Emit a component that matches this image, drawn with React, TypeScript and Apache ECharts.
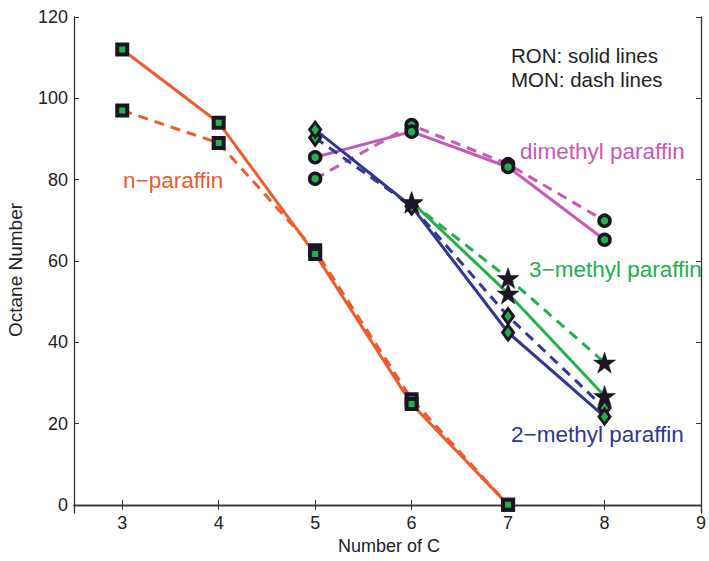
import React, { useEffect, useRef } from "react";
import * as echarts from "echarts";

// Octane numbers of paraffins by carbon count (RON solid, MON dashed)
const nParaffinC = [3, 4, 5, 6, 7];
const nParaffinRON = [112, 94, 61.7, 24.8, 0];
const nParaffinMON = [97, 89, 62.6, 26, 0];

const methyl2C = [5, 6, 7, 8];
const methyl2RON = [92.3, 73.4, 42.4, 21.7];
const methyl2MON = [90.3, 73.5, 46.4, 23.8];

const methyl3C = [6, 7, 8];
const methyl3RON = [74.5, 52, 26.8];
const methyl3MON = [74.3, 55.8, 35];

const dimethylC = [5, 6, 7, 8];
const dimethylRON = [85.5, 91.8, 83.1, 65.2];
const dimethylMON = [80.2, 93.4, 83.8, 69.9];

const xTicks = [3, 4, 5, 6, 7, 8, 9];
const yTicks = [0, 20, 40, 60, 80, 100, 120];

const ORANGE = "#EF5B2B";
const BLUE = "#2E3795";
const GREEN = "#22B04B";
const MAGENTA = "#C858B8";
const EDGE = "#1a1424";
const FONT = "Liberation Sans, Arial, Helvetica, sans-serif";

const STAR =
  "path://M50,0 L61.2,34.5 L97.6,34.5 L68.2,55.9 L79.4,90.5 L50,69.1 L20.6,90.5 L31.8,55.9 L2.4,34.5 L38.8,34.5 Z";

const pairs = (xs: number[], ys: number[]) => xs.map((x, i) => [x, ys[i]]);

function lineSeries(xs: number[], ys: number[], color: string, dashed: boolean) {
  return {
    type: "line",
    data: pairs(xs, ys),
    showSymbol: false,
    symbol: "none",
    z: 2,
    lineStyle: { color, width: 3, type: dashed ? [10, 7] : "solid" },
    silent: true,
  };
}

function markerSeries(xs: number[], ys: number[], kind: string) {
  const base: any = { type: "scatter", data: pairs(xs, ys), z: 5, silent: true };
  if (kind === "square") {
    return { ...base, symbol: "rect", symbolSize: 10, itemStyle: { color: GREEN, borderColor: EDGE, borderWidth: 4, opacity: 1 } };
  }
  if (kind === "circle") {
    return { ...base, symbol: "circle", symbolSize: 11, itemStyle: { color: GREEN, borderColor: EDGE, borderWidth: 3.5, opacity: 1 } };
  }
  if (kind === "diamond") {
    return { ...base, symbol: "diamond", symbolSize: [11, 15], itemStyle: { color: GREEN, borderColor: EDGE, borderWidth: 3, opacity: 1 } };
  }
  return { ...base, symbol: STAR, symbolSize: [22, 21], itemStyle: { color: EDGE, borderColor: EDGE, borderWidth: 0.5, opacity: 1 } };
}

export default function App() {
  const ref = useRef<HTMLDivElement>(null);

  useEffect(() => {
    if (!ref.current) return;
    const chart = echarts.init(ref.current, undefined, { renderer: "svg" });

    const axisLine = { show: true, lineStyle: { color: "#333", width: 1.3 } };
    const tickStyle = { show: true, inside: true, length: 5, lineStyle: { color: "#333", width: 1 } };
    const labelStyle = { color: "#222", fontSize: 18, fontFamily: FONT };

    chart.setOption({
      animation: false,
      backgroundColor: "#ffffff",
      grid: { left: 74, right: 5, top: 17, bottom: 48, containLabel: false },
      xAxis: [
        {
          type: "value",
          min: 2.5,
          max: 9,
          position: "bottom",
          axisLine,
          axisTick: { ...tickStyle, customValues: xTicks },
          axisLabel: { ...labelStyle, customValues: xTicks, margin: 1 },
          splitLine: { show: false },
        },
        {
          type: "value",
          min: 2.5,
          max: 9,
          position: "top",
          axisLine,
          axisTick: { ...tickStyle, customValues: xTicks },
          axisLabel: { show: false },
          splitLine: { show: false },
        },
      ],
      yAxis: [
        {
          type: "value",
          min: -2,
          max: 120,
          position: "left",
          axisLine,
          axisTick: { ...tickStyle, customValues: yTicks },
          axisLabel: { ...labelStyle, customValues: yTicks, margin: 6 },
          splitLine: { show: false },
        },
        {
          type: "value",
          min: -2,
          max: 120,
          position: "right",
          axisLine,
          axisTick: { ...tickStyle, customValues: yTicks },
          axisLabel: { show: false },
          splitLine: { show: false },
        },
      ],
      series: [
        lineSeries(nParaffinC, nParaffinMON, ORANGE, true),
        lineSeries(nParaffinC, nParaffinRON, ORANGE, false),
        lineSeries(dimethylC, dimethylMON, MAGENTA, true),
        lineSeries(dimethylC, dimethylRON, MAGENTA, false),
        lineSeries(methyl3C, methyl3MON, GREEN, true),
        lineSeries(methyl3C, methyl3RON, GREEN, false),
        lineSeries(methyl2C, methyl2MON, BLUE, true),
        lineSeries(methyl2C, methyl2RON, BLUE, false),
        markerSeries(nParaffinC, nParaffinMON, "square"),
        markerSeries(nParaffinC, nParaffinRON, "square"),
        markerSeries(dimethylC, dimethylMON, "circle"),
        markerSeries(dimethylC, dimethylRON, "circle"),
        markerSeries(methyl2C, methyl2MON, "diamond"),
        markerSeries(methyl2C, methyl2RON, "diamond"),
        markerSeries(methyl3C, methyl3MON, "star"),
        markerSeries(methyl3C, methyl3RON, "star"),
      ],
      graphic: [
        {
          type: "text",
          x: 15,
          y: 270,
          rotation: Math.PI / 2,
          style: { text: "Octane Number", font: `19px ${FONT}`, fill: "#222", textAlign: "center", textVerticalAlign: "middle" },
        },
        {
          type: "text",
          x: 389,
          y: 546,
          style: { text: "Number of C", font: `18px ${FONT}`, fill: "#222", textAlign: "center", textVerticalAlign: "middle" },
        },
        {
          type: "text",
          x: 511,
          y: 55.5,
          style: { text: "RON: solid lines", font: `20.5px ${FONT}`, fill: "#222", textAlign: "left", textVerticalAlign: "middle" },
        },
        {
          type: "text",
          x: 511,
          y: 79,
          style: { text: "MON: dash lines", font: `20.5px ${FONT}`, fill: "#222", textAlign: "left", textVerticalAlign: "middle" },
        },
        {
          type: "text",
          x: 123,
          y: 180,
          style: { text: "n\u2212paraffin", font: `22.5px ${FONT}`, fill: ORANGE, textAlign: "left", textVerticalAlign: "middle" },
        },
        {
          type: "text",
          x: 520,
          y: 151,
          style: { text: "dimethyl paraffin", font: `22.5px ${FONT}`, fill: MAGENTA, textAlign: "left", textVerticalAlign: "middle" },
        },
        {
          type: "text",
          x: 529,
          y: 269,
          style: { text: "3\u2212methyl paraffin", font: `22.5px ${FONT}`, fill: GREEN, textAlign: "left", textVerticalAlign: "middle" },
        },
        {
          type: "text",
          x: 511,
          y: 434,
          style: { text: "2\u2212methyl paraffin", font: `22.5px ${FONT}`, fill: BLUE, textAlign: "left", textVerticalAlign: "middle" },
        },
      ],
    });

    return () => chart.dispose();
  }, []);

  return (
    <div
      ref={ref}
      style={{ position: "absolute", left: 0, top: 0, width: 709, height: 561, background: "#fff" }}
    />
  );
}
